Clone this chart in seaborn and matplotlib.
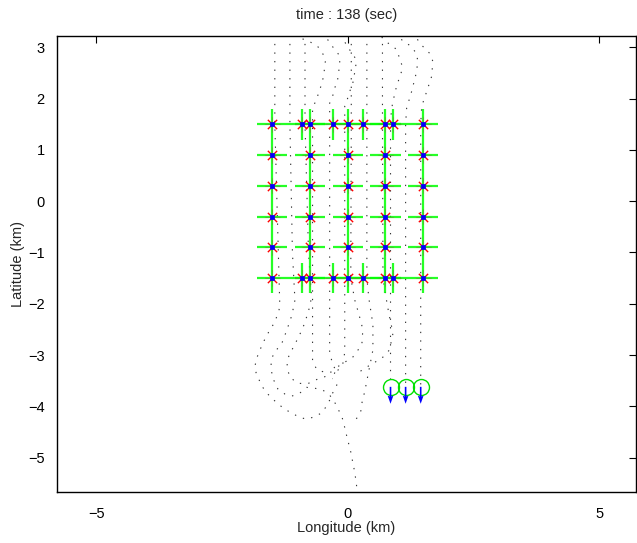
import matplotlib
matplotlib.use("Agg")
import matplotlib.pyplot as plt
import seaborn as sns
import pandas as pd
import numpy as np

# ---------------- data ----------------
title_text = "time : 138 (sec)"
x_label = "Longitude (km)"
y_label = "Latitude (km)"
x_ticks = [-5, 0, 5]
y_ticks = [-5, -4, -3, -2, -1, 0, 1, 2, 3]

# grid stations: outer rows have 9 columns, inner rows 5
row_y_outer = [1.5, -1.5]
row_y_inner = [0.9, 0.3, -0.3, -0.9]
col_x_outer = [-1.5, -0.9, -0.75, -0.3, 0.0, 0.3, 0.75, 0.9, 1.5]
col_x_inner = [-1.5, -0.75, 0.0, 0.75, 1.5]
arm_len = 0.3

# current drifters (circles) and their velocity arrows
drifter_x = [0.85, 1.15, 1.45]
drifter_y = [-3.62, -3.62, -3.62]
drifter_u = [0.0, 0.0, 0.0]
drifter_v = [-0.33, -0.33, -0.33]

# drifter tracks (x, y) in km
trail_L1 = [(-1.45, 3.4), (-1.45, 1.5), (-1.38, -1.0), (-1.35, -2.07), (-1.45, -2.36),
            (-1.55, -2.51), (-1.69, -2.77), (-1.81, -3.06), (-1.85, -3.24), (-1.81, -3.39),
            (-1.69, -3.63), (-1.59, -3.76), (-1.49, -3.86), (-1.35, -3.98), (-1.23, -4.07),
            (-1.11, -4.13), (-0.97, -4.21), (-0.82, -4.25), (-0.68, -4.21), (-0.52, -4.13),
            (-0.44, -4.02), (-0.36, -3.88), (-0.30, -3.74), (-0.22, -3.59), (-0.2, -3.45)]
trail_L2 = [(-1.15, 3.4), (-1.15, 1.5), (-1.1, -1.0), (-1.05, -1.93), (-1.11, -2.22),
            (-1.21, -2.51), (-1.31, -2.77), (-1.45, -2.94), (-1.51, -3.06), (-1.53, -3.24),
            (-1.49, -3.45), (-1.39, -3.66), (-1.25, -3.76), (-1.11, -3.80), (-0.95, -3.74),
            (-0.82, -3.63), (-0.64, -3.65), (-0.50, -3.68), (-0.36, -3.78), (-0.26, -3.92),
            (-0.20, -4.04), (-0.12, -4.19), (-0.08, -4.33), (-0.04, -4.5), (0.0, -4.66),
            (0.04, -4.81), (0.08, -4.97), (0.10, -5.11), (0.14, -5.28), (0.16, -5.44),
            (0.18, -5.58), (0.2, -5.9)]
trail_L3 = [(-0.85, 3.4), (-0.85, 1.5), (-0.78, -1.0), (-0.72, -1.87), (-0.76, -2.07),
            (-0.85, -2.36), (-0.91, -2.51), (-1.01, -2.71), (-1.11, -2.9), (-1.19, -3.06),
            (-1.21, -3.24), (-1.15, -3.43), (-1.0, -3.55), (-0.8, -3.56), (-0.6, -3.47),
            (-0.45, -3.42), (-0.3, -3.46)]
trail_W1 = [(-1.0, 3.3), (-0.89, 3.16), (-0.74, 3.10), (-0.60, 3.02), (-0.50, 2.88),
            (-0.44, 2.77), (-0.48, 2.44), (-0.52, 2.28), (-0.62, 1.99), (-0.70, 1.81),
            (-0.7, 1.5), (-0.7, -3.1), (-0.62, -3.28), (-0.45, -3.34), (-0.3, -3.33)]
trail_W2 = [(-0.48, 3.3), (-0.36, 3.08), (-0.24, 2.94), (-0.16, 2.83), (-0.16, 2.67),
            (-0.20, 2.38), (-0.26, 2.20), (-0.30, 2.05), (-0.36, 1.91), (-0.36, 1.5),
            (-0.36, -2.95), (-0.3, -3.18), (-0.22, -3.33)]
trail_W3 = [(-0.12, 3.25), (-0.02, 3.02), (0.08, 2.90), (0.16, 2.77), (0.16, 2.63),
            (0.10, 2.30), (0.04, 2.14), (-0.02, 1.95), (-0.06, 1.85), (-0.06, 1.5),
            (-0.06, -2.95), (-0.1, -3.18), (-0.2, -3.3)]
trail_R1 = [(0.07, 3.4), (0.07, 1.5), (0.06, -1.5), (0.14, -1.93), (0.22, -2.2),
            (0.3, -2.5), (0.28, -2.8), (0.1, -3.04), (-0.06, -3.14), (-0.22, -3.24),
            (-0.28, -3.4)]
trail_R2 = [(0.38, 3.4), (0.38, 1.5), (0.38, -1.5), (0.42, -1.9), (0.5, -2.4),
            (0.5, -2.9), (0.42, -3.3), (0.34, -3.7), (0.28, -3.94), (0.26, -4.09),
            (0.18, -4.23), (0.1, -4.33)]
trail_R3 = [(0.69, 3.4), (0.69, 1.5), (0.7, -1.5), (0.78, -1.99), (0.83, -2.26),
            (0.9, -2.57), (0.83, -2.9), (0.68, -3.06), (0.54, -3.14), (0.35, -3.25),
            (0.2, -3.35)]
trail_C1 = [(0.6, 3.35), (0.70, 3.16), (0.83, 3.06), (0.97, 2.96), (1.07, 2.67),
            (1.07, 2.53), (0.97, 2.24), (0.89, 1.91), (0.85, 1.6), (0.85, -3.62)]
trail_C2 = [(0.98, 3.3), (1.09, 3.12), (1.23, 3.04), (1.37, 2.88), (1.39, 2.73),
            (1.37, 2.53), (1.27, 2.14), (1.17, 1.81), (1.15, 1.5), (1.15, -3.62)]
trail_C3 = [(1.3, 3.3), (1.43, 3.08), (1.63, 2.88), (1.69, 2.73), (1.67, 2.44),
            (1.57, 2.14), (1.47, 1.85), (1.45, 1.5), (1.45, -3.62)]

trails = {"L1": trail_L1, "L2": trail_L2, "L3": trail_L3,
          "W1": trail_W1, "W2": trail_W2, "W3": trail_W3,
          "R1": trail_R1, "R2": trail_R2, "R3": trail_R3,
          "C1": trail_C1, "C2": trail_C2, "C3": trail_C3}

# ---------------- figure ----------------
sns.set_style("white")
plt.rcParams["font.family"] = ["Liberation Sans", "DejaVu Sans"]

fig = plt.figure(figsize=(6.37, 5.43), dpi=100)
ax = fig.add_axes([57 / 637, 1 - 492 / 543, 579 / 637, 456 / 543])

# tracks
rows = []
for name, pts in trails.items():
    for i, (x, y) in enumerate(pts):
        rows.append({"trail": name, "order": i, "x": x, "y": y})
df_tr = pd.DataFrame(rows)
sns.lineplot(data=df_tr, x="x", y="y", units="trail", estimator=None, sort=False,
             color="0.2", linewidth=0.8, linestyle=(0, (1.2, 6.5)), ax=ax,
             legend=False)

# stations
st_rows = []
for y in row_y_outer:
    for x in col_x_outer:
        st_rows.append({"x": x, "y": y})
for y in row_y_inner:
    for x in col_x_inner:
        st_rows.append({"x": x, "y": y})
df_st = pd.DataFrame(st_rows)

for _, r in df_st.iterrows():
    ax.plot([r.x - arm_len, r.x + arm_len], [r.y, r.y], color="#00ff00", lw=1.6,
            alpha=0.85, zorder=3, solid_capstyle="butt")
    ax.plot([r.x, r.x], [r.y - arm_len, r.y + arm_len], color="#00ff00", lw=1.6,
            alpha=0.85, zorder=3, solid_capstyle="butt")
    ax.plot([r.x - 0.15, r.x + 0.15], [r.y, r.y], color="#7a7a40", lw=0.6,
            alpha=0.6, zorder=3.5)
    ax.plot([r.x, r.x], [r.y - 0.15, r.y + 0.15], color="#7a7a40", lw=0.6,
            alpha=0.6, zorder=3.5)

sns.scatterplot(data=df_st, x="x", y="y", marker="x", s=45, color="red",
                linewidth=1.0, ax=ax, zorder=4, legend=False)
sns.scatterplot(data=df_st, x="x", y="y", marker="s", s=11, color="blue",
                edgecolor="blue", linewidth=0.5, ax=ax, zorder=5, legend=False)

# drifters
df_dr = pd.DataFrame({"x": drifter_x, "y": drifter_y})
ax.plot(df_dr.x, df_dr.y, linestyle="none", marker="o", markersize=11.5,
        markerfacecolor="none", markeredgecolor="#00e000", markeredgewidth=1.0,
        zorder=6)
ax.quiver(drifter_x, drifter_y, drifter_u, drifter_v, angles="xy",
          scale_units="xy", scale=1, color="blue", width=0.0028,
          headwidth=3.5, headlength=5, headaxislength=4.5, zorder=7)

# axes styling
ax.set_xlim(-5.78, 5.73)
ax.set_ylim(-5.67, 3.22)
ax.set_xticks(x_ticks)
ax.set_xticklabels(["\u22125", "0", "5"])
ax.set_yticks(y_ticks)
ax.set_yticklabels([("\u2212" + str(abs(v))) if v < 0 else str(v) for v in y_ticks])
ax.tick_params(direction="in", length=5, width=0.8, top=True, right=True,
               labelsize=10.5, colors="black")
ax.tick_params(axis="x", pad=10.5)
ax.tick_params(axis="y", pad=9)
for sp in ax.spines.values():
    sp.set_visible(True)
    sp.set_color("black")
    sp.set_linewidth(1.0)
ax.set_xlabel(x_label, fontsize=10.5, labelpad=0)
ax.set_ylabel(y_label, fontsize=10.5, labelpad=2)
ax.set_title(title_text, fontsize=10.5, pad=12.5)

fig.savefig("out.png", dpi=100)
